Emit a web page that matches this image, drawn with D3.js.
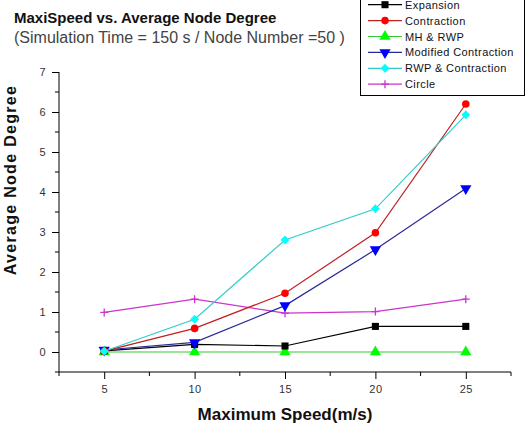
<!DOCTYPE html>
<html>
<head>
<meta charset="utf-8">
<script src="https://cdn.jsdelivr.net/npm/d3@7"></script>
<style>
  body { margin: 0; background: #fff; }
  svg { display: block; font-family: "Liberation Sans", Arial, sans-serif; }
</style>
</head>
<body>
<div id="chart"></div>
<script>
const speeds = [5, 10, 15, 20, 25];
const seriesNames = ["Expansion", "Contraction", "MH & RWP", "Modified Contraction", "RWP & Contraction", "Circle"];
const expansion = [0.03, 0.19, 0.15, 0.64, 0.64];
const contraction = [0.02, 0.59, 1.47, 2.98, 6.2];
const mhRwp = [0, 0, 0, 0, 0];
const modifiedContraction = [0.05, 0.24, 1.16, 2.56, 4.09];
const rwpContraction = [0.02, 0.82, 2.8, 3.58, 5.93];
const circle = [0.99, 1.32, 0.97, 1.01, 1.32];
const yTicks = [0, 1, 2, 3, 4, 5, 6, 7];
const xTicks = [5, 10, 15, 20, 25];

const w = 526, h = 427;

const styles = [
  {line: "#000000", fill: "#000000", sym: d3.symbolSquare, size: 50, rot: 0},
  {line: "#c02020", fill: "#ff0000", sym: d3.symbolCircle, size: 45, rot: 0},
  {line: "#33cc33", fill: "#00ff00", sym: d3.symbolTriangle, size: 55, rot: 0},
  {line: "#2a2a99", fill: "#0000ff", sym: d3.symbolTriangle, size: 55, rot: 180},
  {line: "#33cccc", fill: "#00ffff", sym: d3.symbolSquare, size: 40, rot: 45},
  {line: "#cc33cc", fill: "#cc33cc", sym: d3.symbolCross, size: 0, rot: 0}
];
const allSeries = [expansion, contraction, mhRwp, modifiedContraction, rwpContraction, circle];

const x = d3.scaleLinear().domain([2.5, 27.5]).range([59, 511]);
const y = d3.scaleLinear().domain([-0.5, 7]).range([372, 72]);

const svg = d3.select("#chart").append("svg")
  .attr("width", w).attr("height", h);

// titles
svg.append("text").attr("x", 14).attr("y", 23)
  .attr("font-size", 15).attr("font-weight", "bold").attr("fill", "#111")
  .text("MaxiSpeed vs. Average Node Degree");
svg.append("text").attr("x", 14).attr("y", 43)
  .attr("font-size", 16).attr("fill", "#444")
  .text("(Simulation Time = 150 s / Node Number =50 )");

// axes
const xAxis = d3.axisBottom(x).tickValues(xTicks).tickSize(7).tickPadding(6);
const yAxis = d3.axisLeft(y).tickValues(yTicks).tickSize(7).tickPadding(6);

const gx = svg.append("g").attr("transform", "translate(0," + y(-0.5) + ")").call(xAxis);
const gy = svg.append("g").attr("transform", "translate(" + x(2.5) + ",0)").call(yAxis);
[gx, gy].forEach(g => {
  g.select(".domain").attr("stroke", "#000");
  g.selectAll(".tick line").attr("stroke", "#000");
  g.selectAll(".tick text").attr("fill", "#333").attr("font-size", 11)
    .attr("font-family", "Liberation Sans, Arial, sans-serif").style("letter-spacing", "0.5px");
});
gy.select(".domain").attr("d", "M0," + y(-0.5) + "V" + y(7));
gx.select(".domain").attr("d", "M" + x(2.5) + ",0H" + x(27.5));

// minor ticks
const xMinor = [2.5, 7.5, 12.5, 17.5, 22.5, 27.5];
gx.selectAll(".minor").data(xMinor).enter().append("line")
  .attr("x1", d => x(d)).attr("x2", d => x(d)).attr("y1", 0).attr("y2", 4)
  .attr("stroke", "#000");
const yMinor = [-0.5, 0.5, 1.5, 2.5, 3.5, 4.5, 5.5, 6.5];
gy.selectAll(".minor").data(yMinor).enter().append("line")
  .attr("y1", d => y(d)).attr("y2", d => y(d)).attr("x1", 0).attr("x2", -4)
  .attr("stroke", "#000");

// axis labels
svg.append("text").attr("x", 285).attr("y", 420).attr("text-anchor", "middle")
  .attr("font-size", 17).attr("font-weight", "bold").attr("fill", "#111")
  .text("Maximum Speed(m/s)");
svg.append("text").attr("transform", "translate(16," + 180 + ") rotate(-90)")
  .attr("text-anchor", "middle").attr("font-size", 16).attr("font-weight", "bold")
  .attr("fill", "#111").style("letter-spacing", "1.3px")
  .text("Average Node Degree");

// series
const line = d3.line().x((d, i) => x(speeds[i])).y(d => y(d));
function marker(sel, st) {
  if (st.sym === d3.symbolCross) {
    sel.append("path").attr("d", "M-4,0H4M0,-4V4")
      .attr("stroke", st.fill).attr("stroke-width", 1.3).attr("fill", "none");
  } else {
    sel.append("path").attr("d", d3.symbol(st.sym, st.size)())
      .attr("transform", "rotate(" + st.rot + ")")
      .attr("fill", st.fill);
  }
}

const order = [2, 0, 5, 3, 1, 4];
order.forEach(k => {
  const vals = allSeries[k];
  const st = styles[k];
  svg.append("path").datum(vals).attr("d", line)
    .attr("fill", "none").attr("stroke", st.line).attr("stroke-width", 1.2);
  vals.forEach((v, i) => {
    const g = svg.append("g").attr("transform", "translate(" + x(speeds[i]) + "," + y(v) + ")");
    marker(g, st);
  });
});

// legend
const lg = svg.append("g");
lg.append("rect").attr("x", 360.5).attr("y", -10.5).attr("width", 164).attr("height", 106)
  .attr("fill", "#fff").attr("stroke", "#000");
seriesNames.forEach((name, i) => {
  const cy = 4.7 + i * 15.9;
  const st = styles[i];
  lg.append("line").attr("x1", 368).attr("x2", 402).attr("y1", cy).attr("y2", cy)
    .attr("stroke", st.line).attr("stroke-width", 1.2);
  marker(lg.append("g").attr("transform", "translate(385," + cy + ")"), st);
  lg.append("text").attr("x", 405).attr("y", cy + 4).attr("font-size", 11)
    .attr("fill", "#111").style("letter-spacing", "0.4px").text(name);
});
</script>
</body>
</html>
